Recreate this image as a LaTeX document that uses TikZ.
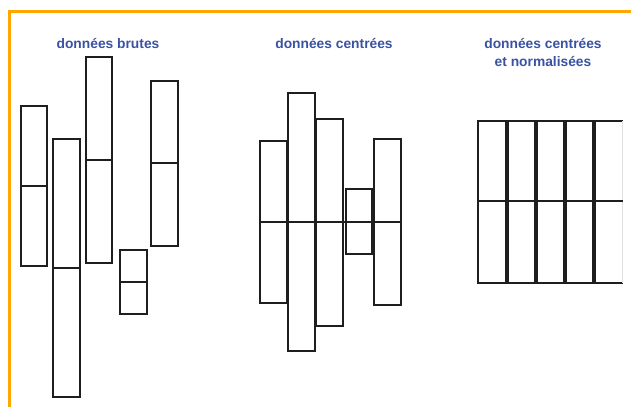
\documentclass[tikz,border=0pt]{standalone}
\usepackage{fontspec}
\setmainfont{Liberation Sans}
\definecolor{figTitulo}{RGB}{58,82,162}
\definecolor{figMarco}{RGB}{255,166,0}
\definecolor{figBarra}{RGB}{30,30,30}
\tikzset{
  titulo/.style={
    font=\bfseries\fontsize{13.8}{18}\selectfont, text=figTitulo,
    align=center, inner sep=0pt
  },
  barra/.style={draw=figBarra, line width=2.5pt},
  media/.style={draw=figBarra, line width=2.2pt},
  marco/.style={draw=figMarco, line width=3pt}
}
\begin{document}
\begin{tikzpicture}[x=1pt, y=-1pt]
  \useasboundingbox (0,0) rectangle (631,407);
  \fill[white] (0,0) rectangle (631,407);
  \draw[marco] (9.5,407) -- (9.5,11.5) -- (631,11.5);

  % titres
  \node[titulo] (brutes) at (108,44) {données brutes};
  \node[titulo] (centrees) at (334,44) {données centrées};
  \node[titulo] (normees) at (543,53) {données centrées\\et normalisées};

  % données brutes
  \draw[barra] (21,106) rectangle (47,266);  \draw[media] (21,186) -- (47,186);
  \draw[barra] (53,139) rectangle (80,397);  \draw[media] (53,268) -- (80,268);
  \draw[barra] (86,57) rectangle (112,263);  \draw[media] (86,160) -- (112,160);
  \draw[barra] (120,250) rectangle (147,314); \draw[media] (120,282) -- (147,282);
  \draw[barra] (151,81) rectangle (178,246); \draw[media] (151,163) -- (178,163);

  % données centrées
  \draw[barra] (260,141) rectangle (287,303);
  \draw[barra] (288,93) rectangle (315,351);
  \draw[barra] (316,119) rectangle (343,326);
  \draw[barra] (346,189) rectangle (372,254);
  \draw[barra] (374,139) rectangle (401,305);
  \draw[media] (260,222) -- (401,222);

  % données centrées et normalisées
  \foreach \x in {478,507,536,565}
    \draw[barra] (\x,121) rectangle (\x+29,283);
  \draw[barra] (623,121) -- (594,121) -- (594,283) -- (623,283);
  \foreach \x in {507,536,565,594}
    \draw[barra, line width=3.6pt] (\x,121) -- (\x,283);
  \draw[draw=black!12, line width=1pt] (622,121) -- (622,283);
  \draw[media, line width=1.8pt] (478,201) -- (623,201);
\end{tikzpicture}
\end{document}
